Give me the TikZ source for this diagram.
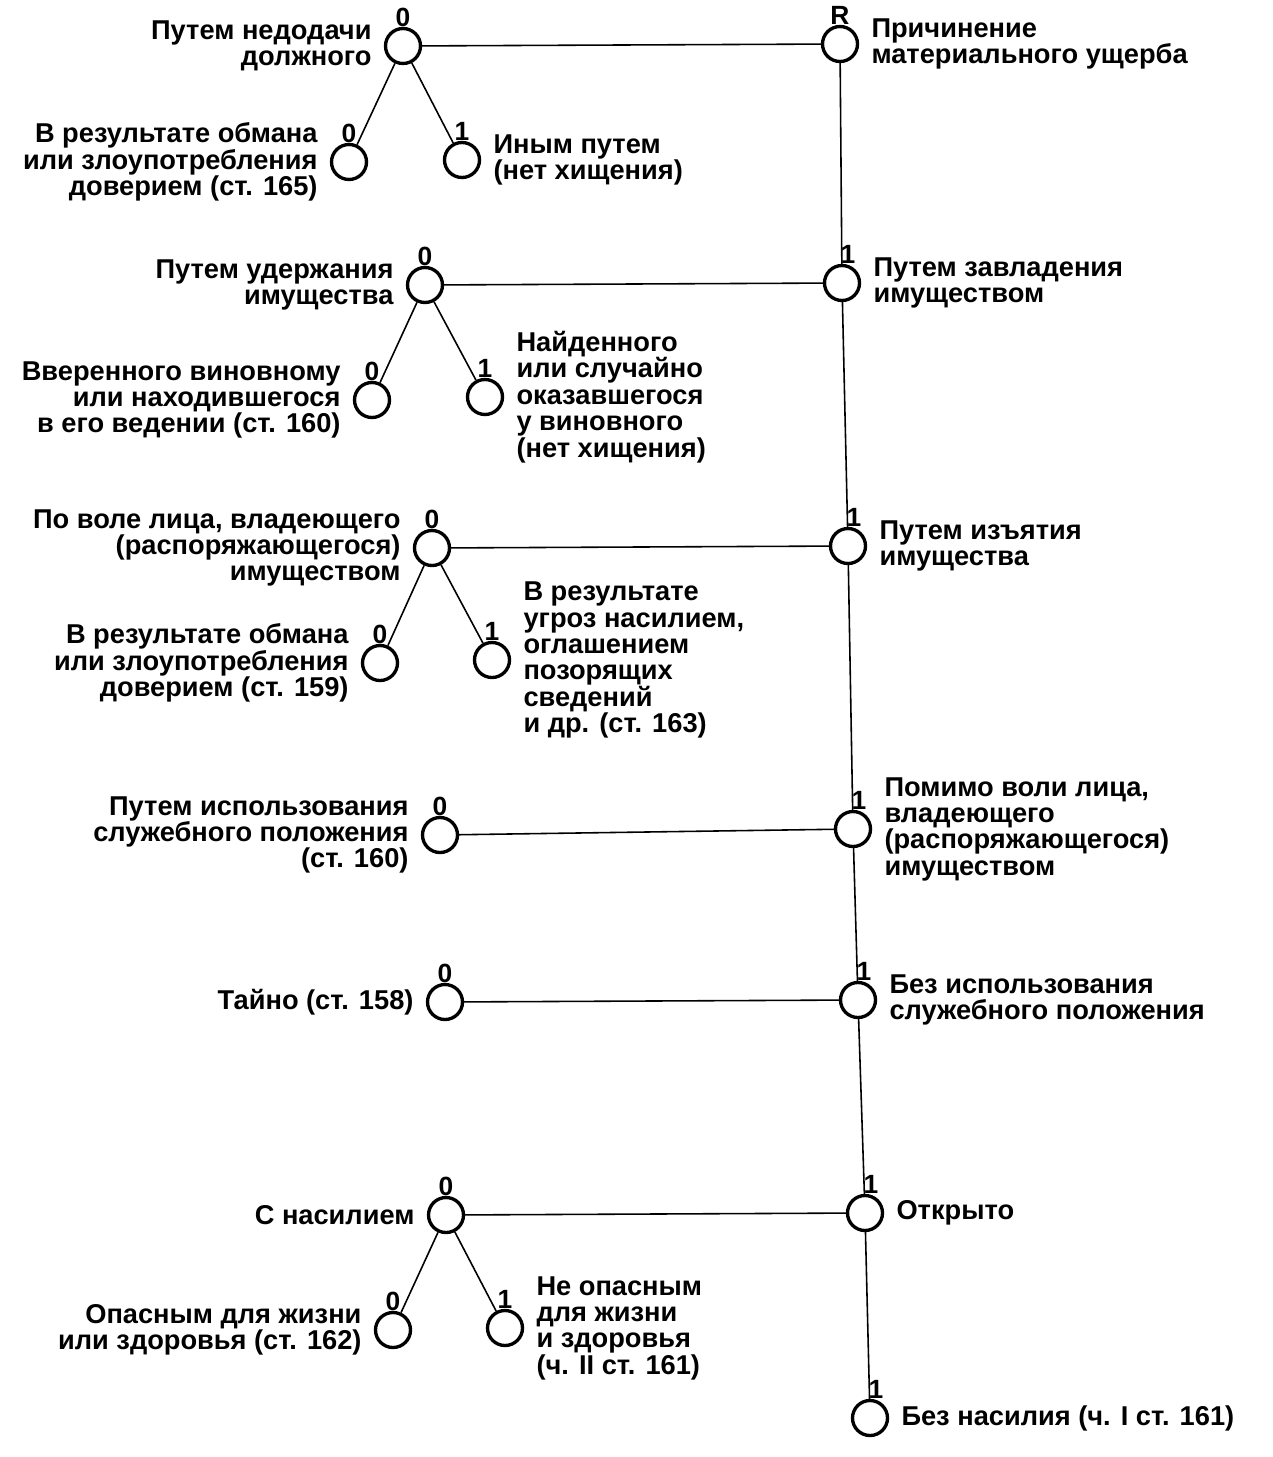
\documentclass[tikz,border=0pt]{standalone}
\usepackage{fontspec}
\setmainfont{Liberation Sans}
\usetikzlibrary{positioning}
\begin{document}
\begin{tikzpicture}[x=0.02cm, y=-0.02cm,
		pt/.style={circle, draw, line width=1.9pt, minimum size=0.7cm, inner sep=0pt},
		lbl/.style={font=\bfseries\fontsize{15}{15}\selectfont, inner sep=0pt},
		txt/.style={font=\bfseries\fontsize{15.5}{15}\selectfont, inner sep=0pt},
		txtl/.style={txt, align=right},
		txtr/.style={txt, align=left},
		edge/.style={line width=0.9pt}]
	\useasboundingbox (0,0) rectangle (1273,1457);
	%Hauptlinie rechts
	\node[pt, label={[lbl]above:R}] (r0) at (840,44) {};
	\node[pt, label={[lbl, xshift=0.12cm]above:1}] (r1) at (842,283) {};
	\node[pt, label={[lbl, xshift=0.12cm]above:1}] (r2) at (848,546) {};
	\node[pt, label={[lbl, xshift=0.12cm]above:1}] (r3) at (853,829) {};
	\node[pt, label={[lbl, xshift=0.12cm]above:1}] (r4) at (858,1000) {};
	\node[pt, label={[lbl, xshift=0.12cm]above:1}] (r5) at (865,1213) {};
	\node[pt, label={[lbl, xshift=0.12cm]above:1}] (r6) at (870,1418) {};
	\draw[edge] (r0) -- (r1) -- (r2) -- (r3) -- (r4) -- (r5) -- (r6);
	\node[txtr, right=0.24cm of r0] (t0) {Причинение\\материального ущерба};
	\node[txtr, right=0.24cm of r1] (t1) {Путем завладения\\имуществом};
	\node[txtr, right=0.24cm of r2] (t2) {Путем изъятия\\имущества};
	\node[txtr, right=0.24cm of r3] (t3) {Помимо воли лица,\\владеющего\\(распоряжающегося)\\имуществом};
	\node[txtr, right=0.24cm of r4] (t4) {Без использования\\служебного положения};
	\node[txtr, right=0.24cm of r5] (t5) {Открыто};
	\node[txtr, right=0.24cm of r6] (t6) {Без насилия (ч. I ст. 161)};
	%Alternativen links
	\node[pt, label={[lbl]above:0}] (l1) at (403,46) {};
	\node[pt, label={[lbl]above:0}] (l1a) at (349,162) {};
	\node[pt, label={[lbl]above:1}] (l1b) at (462,160) {};
	\node[pt, label={[lbl]above:0}] (l2) at (425,285) {};
	\node[pt, label={[lbl]above:0}] (l2a) at (372,400) {};
	\node[pt, label={[lbl]above:1}] (l2b) at (485,397) {};
	\node[pt, label={[lbl]above:0}] (l3) at (432,548) {};
	\node[pt, label={[lbl]above:0}] (l3a) at (380,663) {};
	\node[pt, label={[lbl]above:1}] (l3b) at (492,660) {};
	\node[pt, label={[lbl]above:0}] (l4) at (440,835) {};
	\node[pt, label={[lbl]above:0}] (l5) at (445,1002) {};
	\node[pt, label={[lbl]above:0}] (l6) at (446,1215) {};
	\node[pt, label={[lbl]above:0}] (l6a) at (393,1330) {};
	\node[pt, label={[lbl]above:1}] (l6b) at (505,1328) {};
	\draw[edge] (l1) -- (r0);
	\draw[edge] (l2) -- (r1);
	\draw[edge] (l3) -- (r2);
	\draw[edge] (l4) -- (r3);
	\draw[edge] (l5) -- (r4);
	\draw[edge] (l6) -- (r5);
	\draw[edge] (l1a) -- (l1) -- (l1b);
	\draw[edge] (l2a) -- (l2) -- (l2b);
	\draw[edge] (l3a) -- (l3) -- (l3b);
	\draw[edge] (l6a) -- (l6) -- (l6b);
	\node[txtl, left=0.24cm of l1] (s1) {Путем недодачи\\должного};
	\node[txtl, left=0.24cm of l1a] (s1a) {В результате обмана\\или злоупотребления\\доверием (ст. 165)};
	\node[txtr, right=0.24cm of l1b] (s1b) {Иным путем\\(нет хищения)};
	\node[txtl, left=0.24cm of l2] (s2) {Путем удержания\\имущества};
	\node[txtl, left=0.24cm of l2a] (s2a) {Вверенного виновному\\или находившегося\\в его ведении (ст. 160)};
	\node[txtr, right=0.24cm of l2b] (s2b) {Найденного\\или случайно\\оказавшегося\\у виновного\\(нет хищения)};
	\node[txtl, left=0.24cm of l3] (s3) {По воле лица, владеющего\\(распоряжающегося)\\имуществом};
	\node[txtl, left=0.24cm of l3a] (s3a) {В результате обмана\\или злоупотребления\\доверием (ст. 159)};
	\node[txtr, right=0.24cm of l3b] (s3b) {В результате\\угроз насилием,\\оглашением\\позорящих\\сведений\\и др. (ст. 163)};
	\node[txtl, left=0.24cm of l4] (s4) {Путем использования\\служебного положения\\(ст. 160)};
	\node[txtl, left=0.24cm of l5] (s5) {Тайно (ст. 158)};
	\node[txtl, left=0.24cm of l6] (s6) {С насилием};
	\node[txtl, left=0.24cm of l6a] (s6a) {Опасным для жизни\\или здоровья (ст. 162)};
	\node[txtr, right=0.24cm of l6b] (s6b) {Не опасным\\для жизни\\и здоровья\\(ч. II ст. 161)};
\end{tikzpicture}
\end{document}
